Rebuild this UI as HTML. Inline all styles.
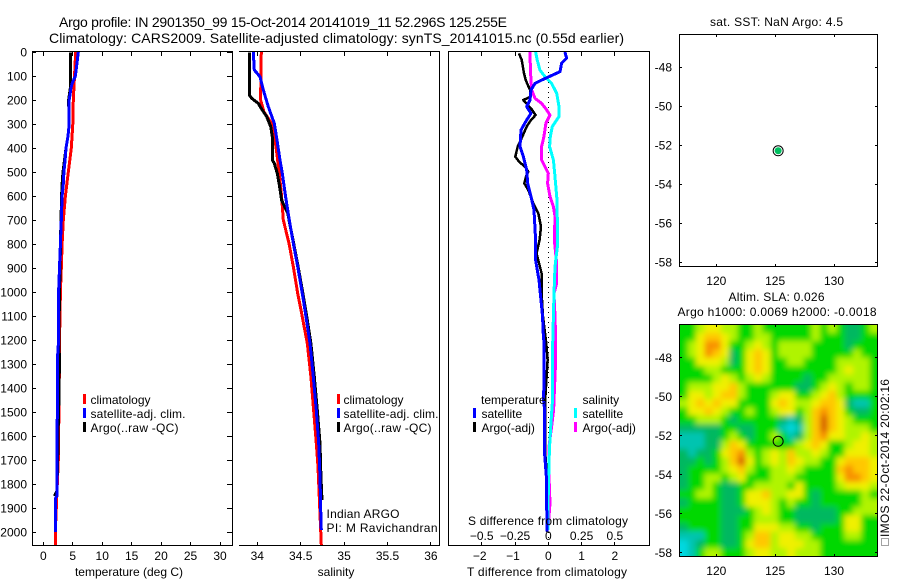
<!DOCTYPE html>
<html lang="en">
<head>
<meta charset="utf-8">
<title>Argo profile chart</title>
<style>
html,body{margin:0;padding:0;background:#fff}
svg{display:block}
text{font-family:"Liberation Sans",sans-serif;font-size:12px;fill:#000}
</style>
</head>
<body>
<svg id="chart" width="900" height="580" viewBox="0 0 900 580">
<rect width="900" height="580" fill="#fff"/>
<defs>
<clipPath id="mapClip"><rect x="679.5" y="324.5" width="198" height="232"/></clipPath>
<filter id="soft" x="-5%" y="-5%" width="110%" height="110%"><feGaussianBlur stdDeviation="3"/></filter>
</defs>
<text x="59" y="27" style="font-size:14px" textLength="448" lengthAdjust="spacing">Argo profile: IN 2901350_99 15-Oct-2014 20141019_11 52.296S 125.255E</text>
<text x="49" y="43" style="font-size:14px" textLength="575" lengthAdjust="spacing">Climatology: CARS2009. Satellite-adjusted climatology: synTS_20141015.nc (0.55d earlier)</text>

<g id="marks"></g>
<g id="frames" fill="none" stroke="#000" stroke-width="1" shape-rendering="crispEdges">
<rect x="32.5" y="51.5" width="200" height="494"/>
<path d="M239 51.5H439.5V545.5H239"/>
<rect x="448.5" y="51.5" width="201" height="494"/>
<rect x="679.5" y="34.5" width="198" height="232"/>
<rect x="679.5" y="324.5" width="198" height="232"/>
</g>
<g id="ticks"></g>

<text x="129" y="576" text-anchor="middle">temperature (deg C)</text>
<text x="336" y="576" text-anchor="middle">salinity</text>
<text x="547" y="576" text-anchor="middle" textLength="160">T difference from climatology</text>
<text x="548" y="525" text-anchor="middle" textLength="160">S difference from climatology</text>

<g>
<rect x="83" y="394" width="3" height="10" fill="#f00"/><text x="90.5" y="404">climatology</text>
<rect x="83" y="408" width="3" height="10" fill="#00f"/><text x="90.5" y="418" textLength="95">satellite-adj. clim.</text>
<rect x="83" y="422" width="3" height="10" fill="#000"/><text x="90.5" y="432" textLength="88">Argo(..raw -QC)</text>
</g>
<g>
<rect x="337" y="394" width="3" height="10" fill="#f00"/><text x="343.5" y="404">climatology</text>
<rect x="337" y="408" width="3" height="10" fill="#00f"/><text x="343.5" y="418" textLength="95">satellite-adj. clim.</text>
<rect x="337" y="422" width="3" height="10" fill="#000"/><text x="343.5" y="432" textLength="88">Argo(..raw -QC)</text>
</g>
<g>
<text x="481" y="404">temperature</text>
<rect x="473" y="408" width="3" height="10" fill="#00f"/><text x="481.5" y="418">satellite</text>
<rect x="473" y="422" width="3" height="10" fill="#000"/><text x="481.5" y="432">Argo(-adj)</text>
<text x="582.5" y="404">salinity</text>
<rect x="574" y="408" width="3" height="10" fill="#0ff"/><text x="582.5" y="418">satellite</text>
<rect x="574" y="422" width="3" height="10" fill="#f0f"/><text x="582.5" y="432">Argo(-adj)</text>
</g>
<text x="326.5" y="518" textLength="73">Indian ARGO</text>
<text x="326.5" y="532" textLength="111">PI: M Ravichandran</text>

<text x="776.5" y="26" text-anchor="middle" textLength="133">sat. SST: NaN Argo: 4.5</text>
<text x="776.5" y="301" text-anchor="middle" textLength="96">Altim. SLA: 0.026</text>
<text x="777" y="316" text-anchor="middle" textLength="199">Argo h1000: 0.0069 h2000: -0.0018</text>
<text transform="translate(889,537) rotate(-90)" textLength="158">IMOS 22-Oct-2014 20:02:16</text>
<rect x="881.5" y="538.5" width="7" height="7" fill="#fff" stroke="#444" stroke-width="1" stroke-dasharray="1 1" shape-rendering="crispEdges"/>
</svg>

<script>
// Temperature panel
const climTDepth = [0,100,200,300,400,500,600,700,800,900,1000,1100,1200,1400,1700,1850,2000,2054];
const climT = [5.5,5.3,5.1,5.0,4.75,4.25,3.75,3.4,3.2,3.05,2.9,2.83,2.75,2.7,2.55,2.3,2.04,2.04];
const argoTDepth = [2,140,200,300,350,400,450,500,550,600,700,800,900,1000,1100,1200,1300,1400,1600,1700,1830,1850];
const argoT = [4.65,4.65,4.3,4.4,4.2,3.85,3.6,3.35,3.2,3.1,3.0,2.9,2.85,2.75,2.7,2.7,2.72,2.7,2.5,2.45,2.3,1.9];
const satTDepth = [0,50,100,130,150,200,300,350,400,450,500,550,600,700,800,900,1000,1200,1260,1500,1560,1850,1860,2000];
const satT = [5.95,5.7,5.45,4.9,4.7,4.4,4.4,4.2,3.85,3.7,3.5,3.4,3.2,3.05,2.9,2.75,2.6,2.6,2.45,2.45,2.3,2.3,2.05,2.05];

// Salinity panel
const climSDepth = [0,103,200,250,297,394,450,506,603,700,797,894,1006,1075,1214,1353,1492,1631,1728,2054];
const climS = [34.046,34.042,34.038,34.077,34.165,34.215,34.234,34.253,34.28,34.3,34.365,34.415,34.465,34.503,34.576,34.618,34.649,34.68,34.699,34.737];
const satSDepth = [0,75,103,158,228,297,367,450,506,603,700,797,894,1006,1103,1214,1353,1492,1631,1769,1908,1992];
const satS = [33.954,33.965,34.031,34.069,34.127,34.196,34.227,34.261,34.288,34.326,34.369,34.415,34.465,34.518,34.561,34.607,34.645,34.68,34.707,34.722,34.73,34.737];
const argoSDepth = [2,179,193,214,242,269,311,353,450,464,506,561,617,672,800,894,1006,1103,1214,1353,1492,1631,1769,1867];
const argoS = [33.908,33.908,33.935,34.012,34.058,34.108,34.154,34.173,34.173,34.196,34.23,34.257,34.28,34.35,34.42,34.47,34.525,34.57,34.618,34.657,34.691,34.722,34.733,34.745];

// Difference panel
const argoDTDepth = [6,33,89,117,158,186,200,221,242,263,283,311,353,394,436,457,478,499,519,547,575,631,672,728,783,839,922,1006,1103,1214,1283,1353,1464,1658,1728,1853,2000];
const argoDT = [-.88,-.8,-.73,-.68,-.55,-.52,-.75,-.62,-.48,-.38,-.52,-.65,-.78,-.92,-.99,-.88,-.7,-.6,-.67,-.72,-.6,-.45,-.3,-.22,-.26,-.35,-.2,-.2,-.16,-.06,-.02,-.05,-.1,-.1,-.06,-.04,-.04];
const satDTDepth = [0,26,47,82,103,117,131,158,200,228,256,283,325,394,436,492,547,603,658,783,867,950,1103,1158,1214,1353,1450,1492,1658,1728,1783,1853,1998];
const satDT = [.5,.55,.4,.35,.02,-.2,-.4,-.52,-.55,-.65,-.52,-.65,-.82,-.85,-.75,-.65,-.62,-.52,-.43,-.38,-.38,-.28,-.17,-.16,-.13,-.13,-.14,-.11,-.12,-.08,-.05,-.05,-.04];
const satDSDepth = [0,33,75,103,131,172,228,269,311,353,394,450,506,617,728,811,894,1006,1103,1214,1353,1464,1561,1658,1769,1908,1992];
const satDS = [-.095,-.083,-.063,-.025,.025,.063,.08,.08,.03,.015,.01,.038,.048,.065,.068,.068,.05,.043,.038,.033,.033,.03,.018,.008,.003,-.003,-.003];
const argoDSDepth = [0,89,158,193,214,235,263,297,353,394,450,478,506,547,603,644,686,783,881,964,1006,1103,1158,1311,1492,1561,1644,1769,1881,1992];
const argoDS = [-.138,-.133,-.125,-.1,-.05,-.02,.013,-.018,-.033,-.05,-.05,-.025,0,-.005,.013,.038,.05,.045,.063,.063,.043,.05,.053,.053,.04,.025,.005,.005,.013,-.003];

// Tick labels
const depthTicks = [0,100,200,300,400,500,600,700,800,900,1000,1100,1200,1300,1400,1500,1600,1700,1800,1900,2000];
const tempTicks = [0,5,10,15,20,25,30];
const salTicks = [34,34.5,35,35.5,36];
const dtTicks = [-2,-1,0,1,2];
const dsTicks = [-0.5,-0.25,0,0.25,0.5];
const lonTicks = [120,125,130];
const latTicks = [-48,-50,-52,-54,-56,-58];

// Float position
const floatLon = 125.255;
const floatLat = -52.296;

// Sea level anomaly heatmap, one row per latitude band (north to south), colour level 0 to 8
const slaGrid = [
[3,3,4,5,5,4,4,3,3,4,3,3,3,3,3,3,4,3,4,3,2,2,3,4],
[3,3,5,6,6,5,4,3,3,4,4,3,3,3,3,3,4,3,3,3,2,2,3,3],
[3,4,5,7,7,5,3,3,4,5,4,3,4,4,4,4,3,3,3,3,2,3,3,3],
[3,4,5,7,6,5,2,3,5,6,5,3,4,4,4,4,3,3,3,3,3,4,3,3],
[3,3,5,5,5,4,2,3,5,6,5,3,3,4,4,3,3,3,3,4,4,4,4,3],
[3,3,3,4,4,3,3,3,5,6,5,3,3,3,3,3,3,3,3,4,5,4,4,3],
[3,3,3,3,4,5,4,3,4,5,4,3,3,3,3,2,3,3,4,4,4,4,4,3],
[3,4,4,4,5,5,6,4,3,3,3,3,3,3,2,2,3,4,5,4,3,4,4,3],
[3,5,5,4,5,6,6,4,3,3,3,4,5,5,3,3,4,5,6,4,3,3,3,3],
[4,5,6,5,6,5,5,3,3,3,3,5,6,5,4,4,5,6,6,5,2,1,1,3],
[3,5,5,6,5,4,3,3,4,3,3,4,5,5,3,4,6,7,6,5,3,2,2,3],
[3,3,4,4,4,3,2,3,3,3,3,3,2,1,2,4,6,8,6,5,4,3,3,3],
[2,2,2,2,2,3,3,2,2,3,3,3,1,0,1,4,6,8,6,5,4,4,4,3],
[1,1,1,2,2,3,4,3,2,3,3,4,3,1,2,4,6,7,5,5,4,4,5,4],
[1,1,1,2,2,4,6,5,3,3,3,3,3,3,4,5,6,5,3,3,4,5,5,4],
[2,1,2,2,3,5,6,7,4,3,4,5,4,6,4,4,5,4,3,3,5,5,5,4],
[2,2,3,2,3,4,6,8,5,3,4,5,4,6,5,4,4,3,3,5,6,6,6,5],
[2,3,3,3,3,4,5,6,4,3,3,4,4,5,4,3,3,3,3,6,7,6,6,5],
[2,3,3,4,4,3,4,5,3,3,3,4,4,4,3,3,3,3,3,5,7,7,6,5],
[2,3,3,4,3,2,2,3,3,4,4,4,4,3,5,3,3,3,3,4,5,5,5,4],
[3,3,4,4,3,2,2,3,5,5,6,4,4,5,5,3,2,3,3,3,3,3,4,3],
[2,3,3,3,3,2,2,3,5,5,5,4,3,4,3,3,2,3,3,3,3,3,4,4],
[3,3,3,3,3,2,2,2,3,4,5,4,3,3,2,2,2,2,2,3,3,4,4,4],
[3,3,3,3,3,2,2,3,3,4,4,4,3,3,2,2,2,2,2,3,5,5,3,3],
[2,3,3,3,3,2,2,3,3,5,5,5,4,4,3,3,2,3,3,3,5,5,3,3],
[1,1,1,3,3,2,2,3,4,6,6,4,5,5,4,4,3,3,3,3,4,4,3,3],
[0,1,2,3,3,2,2,3,5,6,6,4,5,5,5,4,4,3,3,3,3,3,3,3],
[0,1,3,4,4,3,3,3,4,5,5,4,4,5,4,4,4,3,3,3,3,3,3,3]
];
const slaColors = ['#00d8e0','#00c4b0','#00b860','#00d800','#b0f400','#f0f000','#ffc800','#f89000','#d86000'];

// Axis functions
const yD = d => 52 + d * 0.24;
const xT = v => 43.3 + v * 5.89;
const xS = v => 257.3 + (v - 34) * 86.8;
const xDT = v => 548.3 + v * 33.3;
const xDS = v => 548.3 + v * 133.2;
const lonX = v => 716.3 + (v - 120) * 11.77;
const lat1Y = v => 67 + (-48 - v) * 19.5;
const lat2Y = v => 357.5 + (-48 - v) * 19.5;

const NS = 'http://www.w3.org/2000/svg';
const marks = document.getElementById('marks');
const ticks = document.getElementById('ticks');
function mk(parent, tag, attrs, txt) {
  const e = document.createElementNS(NS, tag);
  for (const k in attrs) e.setAttribute(k, attrs[k]);
  if (txt !== undefined) e.textContent = txt;
  parent.appendChild(e);
  return e;
}
function profile(name, depths, vals, xf, color, w) {
  const pts = depths.map((d, i) => xf(vals[i]).toFixed(1) + ',' + yD(d).toFixed(1)).join(' ');
  const el = mk(marks, 'polyline', {points: pts, fill: 'none', stroke: color, 'stroke-width': w, 'shape-rendering': 'crispEdges', 'stroke-linejoin': 'round'});
  
  
}
function tickLine(name, x1, y1, x2, y2) {
  const el = mk(ticks, 'line', {x1: x1, y1: y1, x2: x2, y2: y2, stroke: '#000', 'stroke-width': 1, 'shape-rendering': 'crispEdges'});
  
  
}
function tickText(name, x, y, anchor, s) {
  const el = mk(ticks, 'text', {x: x, y: y, 'text-anchor': anchor}, s);
  
  
}
const snap = v => Math.round(v - 0.5) + 0.5;

// SLA heatmap cells
const clipG = mk(marks, 'g', {'clip-path': 'url(#mapClip)'});


const softG = mk(clipG, 'g', {filter: 'url(#soft)', 'shape-rendering': 'crispEdges'});
const nRows = slaGrid.length, nCols = slaGrid[0].length;
const cw = 198 / nCols, ch = 232 / nRows;
slaGrid.forEach((row, r) => row.forEach((v, c) => {
  const x0 = c === 0 ? 665 : 679.5 + c * cw;
  const x1 = c === nCols - 1 ? 892 : 679.5 + (c + 1) * cw;
  const y0 = r === 0 ? 310 : 324.5 + r * ch;
  const y1 = r === nRows - 1 ? 571 : 324.5 + (r + 1) * ch;
  const cell = mk(softG, 'rect', {x: x0, y: y0, width: x1 - x0 + 0.5, height: y1 - y0 + 0.5, fill: slaColors[Math.max(0, Math.min(8, Math.round(v)))]});
  
  
}));

// Profiles
profile('temperature-climatology-line', climTDepth, climT, xT, '#f00', 3);
profile('temperature-argo-line', argoTDepth, argoT, xT, '#000', 3);
profile('temperature-satellite-line', satTDepth, satT, xT, '#00f', 3);
profile('salinity-climatology-line', climSDepth, climS, xS, '#f00', 3);
profile('salinity-argo-line', argoSDepth, argoS, xS, '#000', 3);
profile('salinity-satellite-line', satSDepth, satS, xS, '#00f', 3);

// Zero line
const zero = mk(marks, 'line', {x1: xDT(0), x2: xDT(0), y1: 52, y2: 545, stroke: '#000', 'stroke-width': 1, 'stroke-dasharray': '1 4', 'shape-rendering': 'crispEdges'});



profile('s-difference-argo-line', argoDSDepth, argoDS, xDS, '#f0f', 3);
profile('t-difference-argo-line', argoDTDepth, argoDT, xDT, '#000', 2.5);
profile('s-difference-satellite-line', satDSDepth, satDS, xDS, '#0ff', 3);
profile('t-difference-satellite-line', satDTDepth, satDT, xDT, '#00f', 3);

// Depth axis
depthTicks.forEach(d => {
  const y = snap(yD(d));
  tickLine('depth-tick-left', 33, y, 36, y);
  tickLine('depth-tick-right', 227, y, 232, y);
  tickText('depth-tick-label', 27, yD(d) + 4.5, 'end', String(d));
});
// Temperature axis
tempTicks.forEach(v => {
  const x = snap(xT(v));
  tickLine('temperature-tick-top', x, 52, x, 56);
  tickLine('temperature-tick-bottom', x, 542, x, 545);
  tickText('temperature-tick-label', xT(v), 560, 'middle', String(v));
});
// Salinity axis
salTicks.forEach(v => {
  const x = snap(xS(v));
  tickLine('salinity-tick-top', x, 52, x, 56);
  tickLine('salinity-tick-bottom', x, 542, x, 545);
  tickText('salinity-tick-label', xS(v), 560, 'middle', String(v));
});
// Difference axes
dtTicks.forEach(v => {
  const x = snap(xDT(v));
  tickLine('t-difference-tick-top', x, 52, x, 56);
  tickLine('t-difference-tick-bottom', x, 542, x, 545);
  tickText('t-difference-tick-label', xDT(v) - (v < 0 ? 2 : 0), 560, 'middle', String(v).replace('-', '\u2212'));
});
dsTicks.forEach(v => {
  tickText('s-difference-tick-label', xDS(v), 540, 'middle', String(v).replace('-', '\u2212'));
});
// Map axes
lonTicks.forEach(v => {
  const x = snap(lonX(v));
  tickLine('sst-map-lon-tick-top', x, 35, x, 37);
  tickLine('sst-map-lon-tick-bottom', x, 264, x, 266);
  tickLine('sla-map-lon-tick-top', x, 325, x, 327);
  tickLine('sla-map-lon-tick-bottom', x, 554, x, 556);
  tickText('sst-map-lon-label', lonX(v), 285, 'middle', String(v));
  tickText('sla-map-lon-label', lonX(v), 575, 'middle', String(v));
});
latTicks.forEach(v => {
  const y1 = snap(lat1Y(v)), y2 = snap(lat2Y(v));
  tickLine('sst-map-lat-tick-left', 680, y1, 682, y1);
  tickLine('sst-map-lat-tick-right', 875, y1, 877, y1);
  tickLine('sla-map-lat-tick-left', 680, y2, 682, y2);
  tickLine('sla-map-lat-tick-right', 875, y2, 877, y2);
  tickText('sst-map-lat-label', 672, lat1Y(v) + 4.5, 'end', String(v));
  tickText('sla-map-lat-label', 672, lat2Y(v) + 4.5, 'end', String(v));
});

// Float markers
const m1 = mk(ticks, 'circle', {cx: lonX(floatLon), cy: lat1Y(floatLat), r: 5, fill: '#fff', stroke: '#000', 'stroke-width': 1});


const m1i = mk(ticks, 'circle', {cx: lonX(floatLon), cy: lat1Y(floatLat), r: 3.5, fill: '#00c060'});


const m2 = mk(ticks, 'circle', {cx: lonX(floatLon), cy: lat2Y(floatLat), r: 5, fill: 'none', stroke: '#000', 'stroke-width': 1});


</script>
</body>
</html>
